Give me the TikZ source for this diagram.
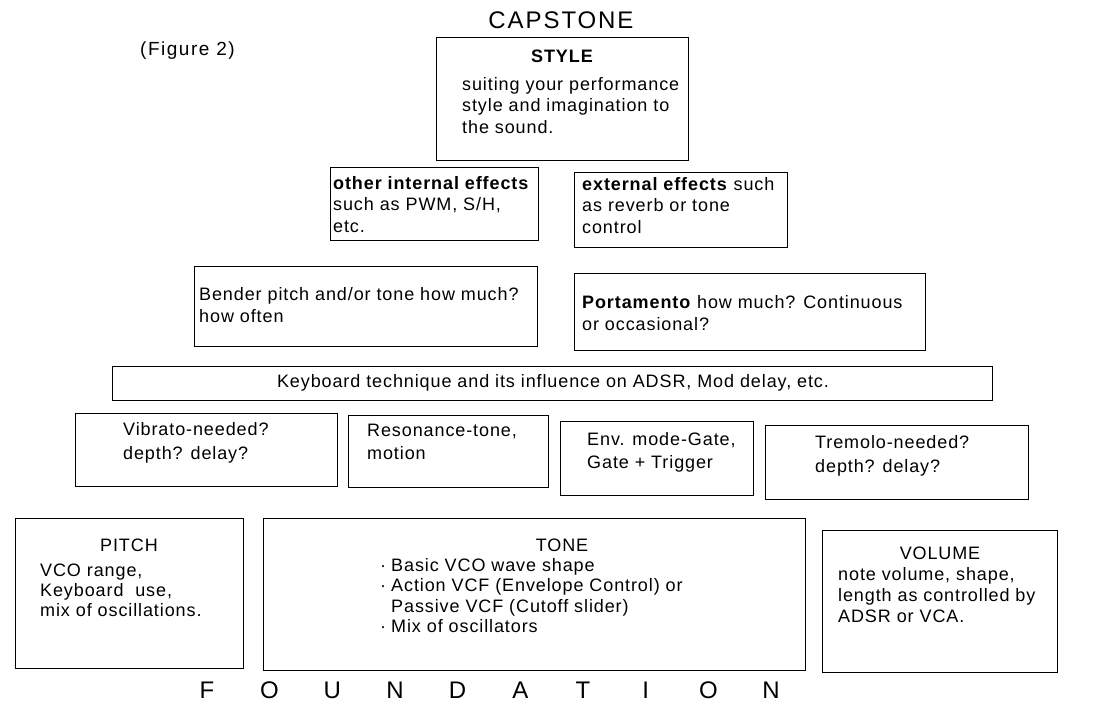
\documentclass[tikz,border=0pt]{standalone}
\usepackage{fontspec}
\setmainfont{Liberation Sans}[LetterSpace=5]
\newfontfamily\capfont{Liberation Sans}[LetterSpace=8]
\newcommand\bodysize{\fontsize{18}{21.5}\selectfont}
\newcommand\myts{\rule{0pt}{13pt}}
\newcommand\bul{\makebox[11pt][l]{·}}
\newcommand\fl[1]{\makebox[62.7pt]{#1}}
\begin{document}
\begin{tikzpicture}[x=1pt,y=-1pt,
  box/.style={draw, line width=0.7pt, inner sep=0pt, anchor=north west},
  txt/.style={anchor=north west, inner sep=0pt, align=left, font=\bodysize},
  head/.style={anchor=base, inner sep=0pt, font=\bodysize}]
\useasboundingbox (0,0) rectangle (1100,711);

% titles
\node[anchor=base, inner sep=0pt, font=\capfont\fontsize{24}{28}\selectfont] (cap) at (561,28.6) {CAPSTONE};
\node[anchor=base west, inner sep=0pt, font=\capfont\fontsize{19}{22}\selectfont] (fig) at (140,56) {(Figure 2)};
\node[anchor=base, inner sep=0pt, font=\fontsize{24}{28}\selectfont] (found) at (489,698.6)
  {\fl{F}\fl{O}\fl{U}\fl{N}\fl{D}\fl{A}\fl{T}\fl{I}\fl{O}\fl{N}};

% boxes
\node[box, minimum width=252pt, minimum height=123pt] (style) at (436,37) {};
\node[box, minimum width=208pt, minimum height=73pt] (internal) at (330,167) {};
\node[box, minimum width=213pt, minimum height=75pt] (external) at (574,172) {};
\node[box, minimum width=343pt, minimum height=80pt] (bender) at (194,266) {};
\node[box, minimum width=351pt, minimum height=77pt] (porta) at (574,273) {};
\node[box, minimum width=880pt, minimum height=34pt] (keyb) at (112,366) {};
\node[box, minimum width=262pt, minimum height=73pt] (vibrato) at (75,413) {};
\node[box, minimum width=200pt, minimum height=72pt] (reson) at (348,415) {};
\node[box, minimum width=193pt, minimum height=74pt] (env) at (560,421) {};
\node[box, minimum width=263pt, minimum height=74pt] (trem) at (765,425) {};
\node[box, minimum width=228pt, minimum height=150pt] (pitch) at (15,518) {};
\node[box, minimum width=542pt, minimum height=152pt] (tone) at (263,518) {};
\node[box, minimum width=235pt, minimum height=142pt] (volume) at (822,530) {};

% texts
\node[head, font=\bodysize\bfseries] (styleh) at (562,62.4) {STYLE};
\node[txt] (stylet) at (462,77) {\myts suiting your performance\\style and imagination to\\the sound.};
\node[txt] (internalt) at (333,176) {\myts\textbf{other internal effects}\\such as PWM, S/H,\\etc.};
\node[txt] (externalt) at (582,177) {\myts\textbf{external effects} such\\as reverb or tone\\control};
\node[txt, font=\fontsize{18}{22}\selectfont] (bendert) at (199,287) {\myts Bender pitch and/or tone how much?\\how often};
\node[txt, font=\fontsize{18}{22}\selectfont] (portat) at (582,295) {\myts\textbf{Portamento} how much? Continuous\\or occasional?};
\node[head] (keybt) at (553,387) {Keyboard technique and its influence on ADSR, Mod delay, etc.};
\node[txt, font=\fontsize{18}{24}\selectfont] (vibratot) at (123,422) {\myts Vibrato-needed?\\depth? delay?};
\node[txt, font=\fontsize{18}{23.5}\selectfont] (resont) at (367,423) {\myts Resonance-tone,\\motion};
\node[txt, font=\fontsize{18}{23.5}\selectfont] (envt) at (587,432) {\myts Env. mode-Gate,\\Gate + Trigger};
\node[txt, font=\fontsize{18}{24}\selectfont] (tremt) at (815,435) {\myts Tremolo-needed?\\depth? delay?};
\node[head] (pitchh) at (129,551) {PITCH};
\node[txt, font=\fontsize{18}{20}\selectfont] (pitcht) at (40,563) {\myts VCO range,\\Keyboard\ \ use,\\mix of oscillations.};
\node[head] (toneh) at (562,551) {TONE};
\node[txt, font=\fontsize{18}{20.5}\selectfont] (tonet) at (380,558) {\myts\bul Basic VCO wave shape\\\bul Action VCF (Envelope Control) or\\\hspace*{11pt}Passive VCF (Cutoff slider)\\\bul Mix of oscillators};
\node[head] (volumeh) at (940,559.5) {VOLUME};
\node[txt, font=\fontsize{18}{21}\selectfont] (volumet) at (838,567) {\myts note volume, shape,\\length as controlled by\\ADSR or VCA.};
\end{tikzpicture}
\end{document}
